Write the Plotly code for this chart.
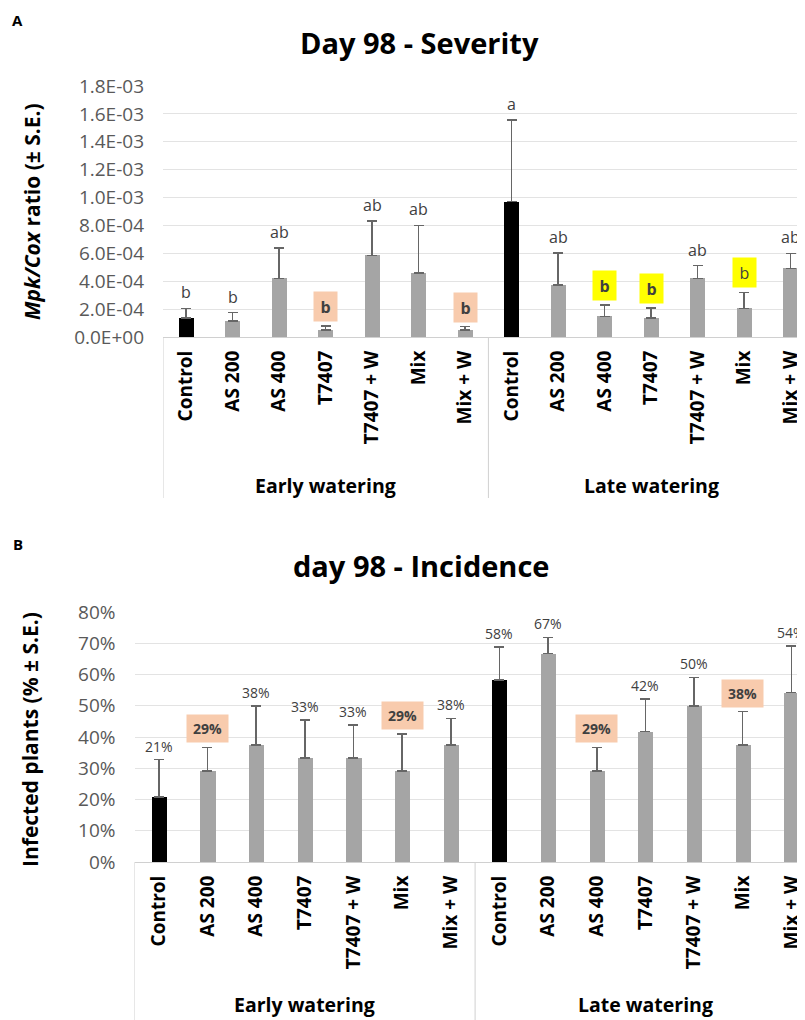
import plotly.graph_objects as go

# ---------------- data ----------------
treatments = ["Control", "AS 200", "AS 400", "T7407", "T7407 + W", "Mix", "Mix + W"]
groups = ["Early watering", "Late watering"]
tick_labels = treatments + treatments

# Panel A: Day 98 - severity (Mpk/Cox ratio)
sev_mean = [1.38e-4, 1.15e-4, 4.20e-4, 0.50e-4, 5.86e-4, 4.60e-4, 0.50e-4,
            9.70e-4, 3.73e-4, 1.48e-4, 1.36e-4, 4.20e-4, 2.06e-4, 4.92e-4]
sev_se = [0.68e-4, 0.59e-4, 2.20e-4, 0.29e-4, 2.46e-4, 3.40e-4, 0.24e-4,
          5.86e-4, 2.31e-4, 0.81e-4, 0.72e-4, 0.91e-4, 1.14e-4, 1.08e-4]
sev_letters = ["b", "b", "ab", "b", "ab", "ab", "b",
               "a", "ab", "b", "b", "ab", "b", "ab"]
sev_mark = ["", "", "", "salmon", "", "", "salmon",
            "", "", "yellow", "yellow", "", "yellow_plain", ""]
sev_tickvals = [0, 2e-4, 4e-4, 6e-4, 8e-4, 1.0e-3, 1.2e-3, 1.4e-3, 1.6e-3, 1.8e-3]
sev_ticktext = ["0.0E+00", "2.0E-04", "4.0E-04", "6.0E-04", "8.0E-04",
                "1.0E-03", "1.2E-03", "1.4E-03", "1.6E-03", "1.8E-03"]

# Panel B: day 98 - incidence (infected plants)
inc_mean = [0.208, 0.292, 0.375, 0.333, 0.333, 0.292, 0.375,
            0.583, 0.667, 0.292, 0.417, 0.500, 0.375, 0.542]
inc_se = [0.120, 0.075, 0.125, 0.122, 0.105, 0.118, 0.085,
          0.105, 0.052, 0.075, 0.105, 0.091, 0.106, 0.149]
inc_labels = ["21%", "29%", "38%", "33%", "33%", "29%", "38%",
              "58%", "67%", "29%", "42%", "50%", "38%", "54%"]
inc_mark = ["", "salmon", "", "", "", "salmon", "",
            "", "", "salmon", "", "", "salmon", ""]

# ---------------- styling ----------------
FONT = "Open Sans"
OFF = 8                      # default page margin around the plot div
W, H = 805 - OFF, 1020 - OFF
BLACK_BAR = "#000000"
GRAY_BAR = "#A5A5A5"
ERR = "#666666"
GRID = "#E3E3E3"
AXLINE = "#D0D0D0"
LABEL = "#404040"
TICK = "#595959"
SALMON = "#F8CBAD"
YELLOW = "#FFFF00"

xpos = list(range(len(tick_labels)))
bar_colors = [BLACK_BAR if t == "Control" else GRAY_BAR for t in tick_labels]


def fx(px):
    return (px - OFF) / W


def fy(px):
    return 1 - (px - OFF) / H


fig = go.Figure()

fig.add_trace(go.Bar(
    x=xpos, y=sev_mean, width=0.32, marker=dict(color=bar_colors, line=dict(width=0)),
    error_y=dict(type="data", symmetric=False, array=sev_se, arrayminus=[0] * len(sev_se),
                 color=ERR, thickness=1.5, width=5),
    xaxis="x", yaxis="y", showlegend=False, hoverinfo="skip"))

fig.add_trace(go.Bar(
    x=xpos, y=inc_mean, width=0.31, marker=dict(color=bar_colors, line=dict(width=0)),
    error_y=dict(type="data", symmetric=False, array=inc_se, arrayminus=[0] * len(inc_se),
                 color=ERR, thickness=1.5, width=5),
    xaxis="x2", yaxis="y2", showlegend=False, hoverinfo="skip"))

xcommon = dict(tickmode="array", tickvals=xpos, ticktext=tick_labels, tickangle=-90,
               tickfont=dict(family=FONT, size=19, color="#000000", weight="bold"),
               showgrid=False, zeroline=False, showline=True, linecolor=AXLINE, linewidth=1,
               ticks="", ticklabelstandoff=5, automargin=False)
ycommon = dict(tickfont=dict(family=FONT, size=19, color=TICK),
               showgrid=True, gridcolor=GRID, gridwidth=1, zeroline=False,
               showline=False, ticks="", ticklabelstandoff=18, automargin=False)

fig.update_layout(
    width=W, height=H, margin=dict(l=0, r=0, t=0, b=0, pad=0), autosize=False,
    paper_bgcolor="white", plot_bgcolor="white", bargap=0,
    xaxis=dict(domain=[fx(163), 1], range=[-0.5, 13.31], anchor="y", **xcommon),
    yaxis=dict(domain=[fy(337), fy(86)], range=[0, 1.8e-3], anchor="x",
               tickmode="array", tickvals=sev_tickvals, ticktext=sev_ticktext, **ycommon),
    xaxis2=dict(domain=[fx(134.5), 1], range=[-0.5, 13.28], anchor="y2", **xcommon),
    yaxis2=dict(domain=[fy(862), fy(612)], range=[0, 0.8], anchor="x2",
                tickmode="linear", tick0=0, dtick=0.1, tickformat=".0%", **ycommon),
)


def paper_text(text, xp, yp, size, angle=0):
    return dict(text=text, x=fx(xp), y=fy(yp), xref="paper", yref="paper",
                xanchor="center", yanchor="middle", textangle=angle, showarrow=False,
                font=dict(family=FONT, size=size, color="#000"))


ann = []
ann.append(paper_text("<b>A</b>", 17.5, 20.5, 15))
ann.append(paper_text("<b>B</b>", 18, 544, 15))
ann.append(paper_text("<b>Day 98 - Severity</b>", 419, 42, 29))
ann.append(paper_text("<b>day 98 - Incidence</b>", 421, 565, 29))
ann.append(paper_text("<b><i>Mpk/Cox</i> ratio (± S.E.)</b>", 32, 212, 21, -90))
ann.append(paper_text("<b>Infected plants (% ± S.E.)</b>", 30, 740, 21, -90))

# group labels
for gi, g in enumerate(groups):
    cx = 3 + 7 * gi
    ann.append(dict(text="<b>%s</b>" % g, x=cx, y=fy(485), xref="x", yref="paper",
                    xanchor="center", yanchor="middle", showarrow=False,
                    font=dict(family=FONT, size=19.5, color="#000")))
    ann.append(dict(text="<b>%s</b>" % g, x=cx, y=fy(1004), xref="x2", yref="paper",
                    xanchor="center", yanchor="middle", showarrow=False,
                    font=dict(family=FONT, size=19.5, color="#000")))

# significance letters (panel A)
for i, (m, s, t, mk) in enumerate(zip(sev_mean, sev_se, sev_letters, sev_mark)):
    d = dict(x=i, y=m + s, xref="x", yref="y", xanchor="center", yanchor="bottom",
             showarrow=False, font=dict(family=FONT, size=16, color=LABEL))
    if mk:
        d.update(text=t if mk == "yellow_plain" else "<b>%s</b>" % t,
                 bgcolor=SALMON if mk == "salmon" else YELLOW,
                 width=19, height=25, borderpad=2, yshift=4)
    else:
        d.update(text=t, yshift=3)
    ann.append(d)

# percentage labels (panel B)
for i, (m, s, t, mk) in enumerate(zip(inc_mean, inc_se, inc_labels, inc_mark)):
    d = dict(x=i, y=m + s, xref="x2", yref="y2", xanchor="center", yanchor="bottom",
             showarrow=False, font=dict(family=FONT, size=14, color=LABEL))
    if mk:
        d.update(text="<b>%s</b>" % t, bgcolor=SALMON, width=37, height=23, borderpad=2, yshift=4)
    else:
        d.update(text=t, yshift=2)
    ann.append(d)

fig.update_layout(annotations=ann)

# group separator lines below the axes
shapes = []
for xv in (-0.5, 6.5):
    shapes.append(dict(type="line", xref="x", yref="paper", x0=xv, x1=xv,
                       y0=fy(337), y1=fy(498), line=dict(color=AXLINE, width=1)))
    shapes.append(dict(type="line", xref="x2", yref="paper", x0=xv, x1=xv,
                       y0=fy(862), y1=0, line=dict(color=AXLINE, width=1)))
fig.update_layout(shapes=shapes)

fig.write_html("out.html")
